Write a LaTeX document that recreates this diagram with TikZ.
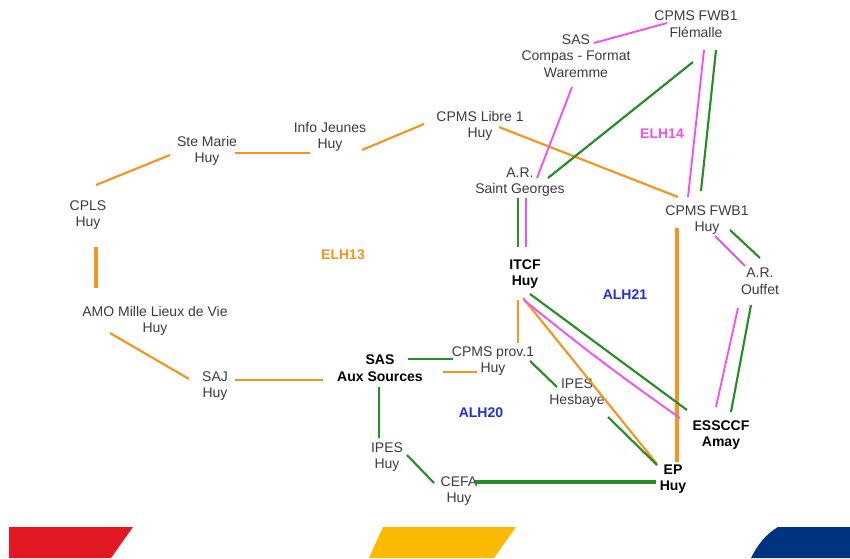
\documentclass[tikz,border=0pt]{standalone}
\usepackage{fontspec}
\setmainfont{Liberation Sans}
\usetikzlibrary{calc}
\definecolor{corg}{RGB}{247,148,30}
\definecolor{cgrn}{RGB}{40,140,40}
\definecolor{cmag}{RGB}{242,80,240}
\definecolor{ctxt}{RGB}{60,60,60}
\definecolor{cblu}{RGB}{32,48,224}
\definecolor{bred}{RGB}{226,24,36}
\definecolor{byel}{RGB}{251,186,0}
\definecolor{bblu}{RGB}{0,51,128}
\tikzset{
  lbl/.style={align=center, inner sep=0pt, text=ctxt, font=\fontsize{10.5}{12.5}\selectfont},
  blbl/.style={align=center, inner sep=0pt, text=black, font=\fontsize{10.5}{12.5}\selectfont\bfseries},
  zone/.style={inner sep=0pt, font=\fontsize{10.5}{12.5}\selectfont\bfseries},
  org/.style={draw=corg, line width=1.6pt},
  grn/.style={draw=cgrn, line width=1.6pt},
  mag/.style={draw=cmag, line width=1.4pt},
  heavy/.style={line width=2.8pt},
}
\begin{document}
\begin{tikzpicture}[x=0.75pt,y=-0.75pt]
\useasboundingbox[fill=white] (0,0) rectangle (850,558);
% nodes
\node[lbl] (flem) at (696,24) {CPMS FWB1\\Flémalle};
\node[lbl] (compas) at (576,56) {SAS\\Compas - Format\\Waremme};
\node[lbl] (libre) at (480,126) {CPMS Libre 1\\Huy};
\node[lbl] (info) at (330,137) {Info Jeunes\\Huy};
\node[lbl] (stemarie) at (207,151) {Ste Marie\\Huy};
\node[lbl] (cpls) at (88,215) {CPLS\\Huy};
\node[lbl] (arsg) at (520,182) {A.R.\\Saint Georges};
\node[lbl] (fwbhuy) at (707,220) {CPMS FWB1\\Huy};
\node[blbl] (itcf) at (525,274) {ITCF\\Huy};
\node[lbl] (ouffet) at (760,281) {A.R.\\Ouffet};
\node[lbl] (amo) at (155,321) {AMO Mille Lieux de Vie\\Huy};
\node[blbl] (sasaux) at (380,368) {SAS\\Aux Sources};
\node[lbl] (prov) at (493,361) {CPMS prov.1\\Huy};
\node[lbl] (saj) at (215,386) {SAJ\\Huy};
\node[lbl] (hesb) at (577,393) {IPES\\Hesbaye};
\node[blbl] (essccf) at (721,435) {ESSCCF\\Amay};
\node[lbl] (ipeshuy) at (387,457) {IPES\\Huy};
\node[blbl] (ep) at (673,479) {EP\\Huy};
\node[lbl] (cefa) at (459,491) {CEFA\\Huy};
% zone labels
\node[zone, text=corg] (elh13) at (343,255) {ELH13};
\node[zone, text=cmag] (elh14) at (662,134) {ELH14};
\node[zone, text=cblu] (alh21) at (625,295) {ALH21};
\node[zone, text=cblu] (alh20) at (481,413) {ALH20};
% orange connectors
\draw[org] ($(cpls)+(8,-30)$) -- ($(stemarie)+(-37,4)$);
\draw[org] ($(stemarie)+(28,2)$) -- ($(info)+(-20,16)$);
\draw[org] ($(info)+(32,13)$) -- ($(libre)+(-56,-2)$);
\draw[org,heavy] ($(cpls)+(8,32)$) -- ($(amo)+(-59,-33)$);
\draw[org] ($(amo)+(-45,12)$) -- ($(saj)+(-26,-7)$);
\draw[org] ($(saj)+(20,-6)$) -- ($(sasaux)+(-57,12)$);
\draw[org] ($(sasaux)+(63,4)$) -- ($(prov)+(-16,11)$);
\draw[org] ($(libre)+(19,1)$) -- ($(fwbhuy)+(-29,-23)$);
\draw[org,heavy] ($(fwbhuy)+(-30,8)$) -- ($(ep)+(4,-17)$);
\draw[org] ($(itcf)+(-7,26)$) -- ($(prov)+(25,-18)$);
\draw[org] ($(itcf)+(-2,24)$) -- ($(ep)+(-16,-15)$);
% green connectors
\draw[grn] ($(sasaux)+(28,-9)$) -- ($(prov)+(-40,-2)$);
\draw[grn] ($(sasaux)+(-1,19)$) -- ($(ipeshuy)+(-8,-19)$);
\draw[grn] ($(ipeshuy)+(20,-2)$) -- ($(cefa)+(-25,-8)$);
\draw[grn,heavy] ($(cefa)+(16,-9)$) -- ($(ep)+(-17,3)$);
\draw[grn] ($(prov)+(37,0)$) -- ($(hesb)+(-20,-6)$);
\draw[grn] ($(hesb)+(31,24)$) -- ($(ep)+(-16,-14)$);
\draw[grn] ($(itcf)+(5,20)$) -- ($(essccf)+(-34,-25)$);
\draw[grn] ($(arsg)+(-2,16)$) -- ($(itcf)+(-7,-27)$);
\draw[grn] ($(arsg)+(28,-4)$) -- ($(flem)+(-3,38)$);
\draw[grn] ($(flem)+(20,26)$) -- ($(fwbhuy)+(-6,-29)$);
\draw[grn] ($(fwbhuy)+(23,10)$) -- ($(ouffet)+(0,-23)$);
\draw[grn] ($(ouffet)+(-9,24)$) -- ($(essccf)+(10,-23)$);
% magenta connectors
\draw[mag] ($(compas)+(18,-13)$) -- ($(flem)+(-29,-1)$);
\draw[mag] ($(compas)+(-4,31)$) -- ($(arsg)+(17,-4)$);
\draw[mag] ($(arsg)+(6,16)$) -- ($(itcf)+(1,-27)$);
\draw[mag] ($(flem)+(8,26)$) -- ($(fwbhuy)+(-19,-23)$);
\draw[mag] ($(fwbhuy)+(8,16)$) -- ($(ouffet)+(-15,-15)$);
\draw[mag] ($(ouffet)+(-22,27)$) -- ($(essccf)+(-5,-28)$);
\draw[mag] ($(itcf)+(-1,26)$) to[bend right=2] ($(essccf)+(-41,-17)$);
% bottom bands
\fill[bred] (9,527) -- (133,527) -- (111,558) -- (9,558) -- cycle;
\fill[byel] (383,527) -- (516,527) -- (494,558) -- (369,558) -- cycle;
\fill[bblu] (778,527) -- (850,527) -- (850,558) -- (751,558) .. controls (758,544) and (766,534) .. (778,527) -- cycle;
\end{tikzpicture}
\end{document}
